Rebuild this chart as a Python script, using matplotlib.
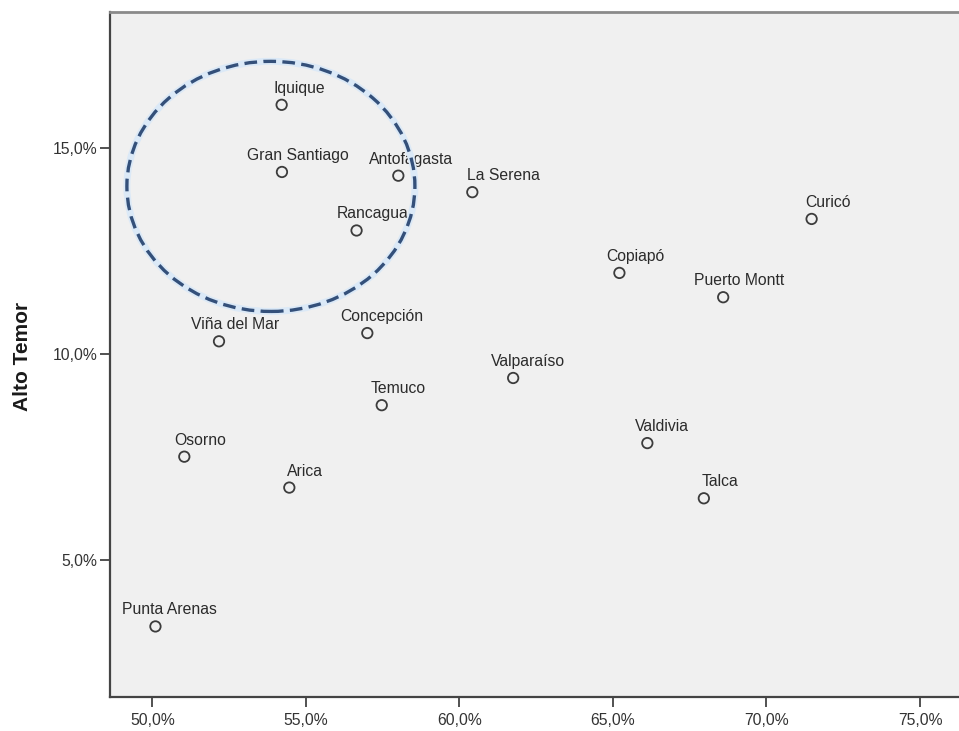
import matplotlib
matplotlib.use("Agg")
import matplotlib.pyplot as plt
from matplotlib.patches import Ellipse
from matplotlib.ticker import FixedLocator, FixedFormatter

# ---- data ----
cities = ["Iquique", "Gran Santiago", "Antofagasta", "Rancagua", "La Serena",
          "Curicó", "Copiapó", "Puerto Montt", "Viña del Mar", "Concepción",
          "Valparaíso", "Temuco", "Osorno", "Valdivia", "Arica", "Talca",
          "Punta Arenas"]
x_vals = [54.21, 54.22, 58.01, 56.65, 60.42,
          71.47, 65.21, 68.59, 52.17, 57.00,
          61.75, 57.47, 51.04, 66.12, 54.46, 67.96,
          50.10]
y_vals = [16.05, 14.42, 14.33, 13.00, 13.93,
          13.28, 11.97, 11.38, 10.31, 10.51,
          9.42, 8.76, 7.51, 7.84, 6.76, 6.50,
          3.39]
x_ticks = [50, 55, 60, 65, 70, 75]
x_tick_labels = ["50,0%", "55,0%", "60,0%", "65,0%", "70,0%", "75,0%"]
y_ticks = [5, 10, 15]
y_tick_labels = ["5,0%", "10,0%", "15,0%"]
y_label = "Alto Temor"

# ---- label placement (pixels, left edge of label relative to marker) ----
label_dx = {"Iquique": -8, "Gran Santiago": -35, "Antofagasta": -29,
            "Rancagua": -20, "La Serena": -5, "Curicó": -6, "Copiapó": -13,
            "Puerto Montt": -29, "Viña del Mar": -28, "Concepción": -27,
            "Valparaíso": -22, "Temuco": -11, "Osorno": -10, "Valdivia": -12,
            "Arica": -2, "Talca": -2, "Punta Arenas": -33}

W, H = 959, 731
fig = plt.figure(figsize=(W / 100, H / 100), dpi=100)
fig.patch.set_facecolor("white")

left_px, right_px, top_px, bot_px = 110, 959, 11.7, 697.3
ax = fig.add_axes([left_px / W, (H - bot_px) / H,
                   (right_px - left_px) / W, (bot_px - top_px) / H])
ax.set_facecolor("#f0f0f0")
ax.set_xlim(48.62, 76.27)
ax.set_ylim(1.67, 18.31)

font = "Liberation Sans"

ax.scatter(x_vals, y_vals, s=7.5 ** 2, facecolors="none",
           edgecolors="#3c3c3c", linewidths=1.3, zorder=3)

for name, xv, yv in zip(cities, x_vals, y_vals):
    ax.annotate(name, (xv, yv), xytext=(label_dx[name], 12),
                textcoords="offset pixels", ha="left", va="baseline",
                fontsize=11.3, color="#2b2b2b", family=font, zorder=4)

# highlight ellipse
halo = Ellipse((53.86, 14.07), 9.38, 6.07, fill=False, edgecolor="#dbe9f7",
               linewidth=5.0, zorder=4.5)
ax.add_patch(halo)
ell = Ellipse((53.86, 14.07), 9.38, 6.07, fill=False, edgecolor="#34507a",
              linewidth=2.4, linestyle=(0, (3.8, 1.9)), zorder=5)
ax.add_patch(ell)

ax.xaxis.set_major_locator(FixedLocator(x_ticks))
ax.xaxis.set_major_formatter(FixedFormatter(x_tick_labels))
ax.yaxis.set_major_locator(FixedLocator(y_ticks))
ax.yaxis.set_major_formatter(FixedFormatter(y_tick_labels))
ax.tick_params(axis="both", direction="out", length=7.5, width=1.2,
               color="#333333", labelsize=11.3, labelcolor="#333333")
ax.tick_params(axis="x", pad=4)
ax.tick_params(axis="y", pad=1.5)
for lbl in ax.get_xticklabels() + ax.get_yticklabels():
    lbl.set_family(font)

ax.spines["right"].set_visible(False)
ax.spines["left"].set_color("#444444")
ax.spines["left"].set_linewidth(1.6)
ax.spines["bottom"].set_color("#444444")
ax.spines["bottom"].set_linewidth(1.6)
ax.spines["top"].set_color("#8a8a8a")
ax.spines["top"].set_linewidth(2.0)

fig.text(22.5 / W, 1 - 356 / H, y_label, rotation=90, ha="center",
         va="center", fontsize=15, fontweight="bold", color="#1a1a1a",
         family=font)

fig.savefig("out.png", dpi=100, facecolor="white")
